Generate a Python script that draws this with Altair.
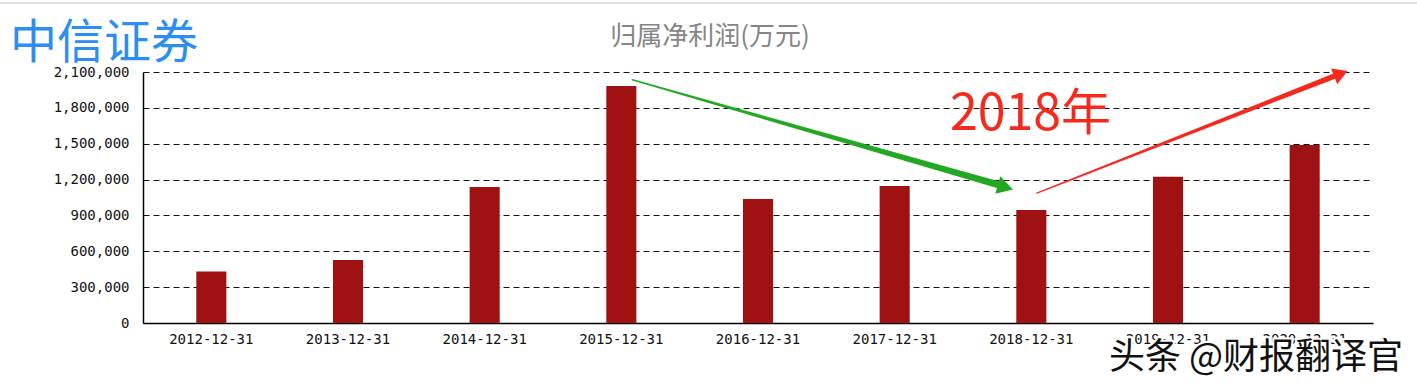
import altair as alt
import pandas as pd

# ---- data ----
dates = ["2012-12-31", "2013-12-31", "2014-12-31", "2015-12-31", "2016-12-31",
         "2017-12-31", "2018-12-31", "2019-12-31", "2020-12-31"]
profit = [430000, 527000, 1138000, 1983000, 1038000, 1146000, 945000, 1224000, 1490000]
y_ticks = [0, 300000, 600000, 900000, 1200000, 1500000, 1800000, 2100000]

# annotation arrows (x in category-index units, y in 万元)
green_x = [3.58, 6.28]
green_y = [2035000, 1150000]
green_w = [1.5, 7.0]
green_head_x = [6.31]
green_head_y = [1136000]
red_x = [6.54, 8.75]
red_y = [1087000, 2080000]
red_w = [1.2, 5.5]
red_head_x = [8.765]
red_head_y = [2085700]

W, H = 1230, 251

bars_df = pd.DataFrame({"date": dates, "profit": profit})

yenc = alt.Y("profit:Q", title=None,
             scale=alt.Scale(domain=[0, 2100000], nice=False, zero=True),
             axis=alt.Axis(values=y_ticks, labelExpr="format(datum.value, ',')",
                           ticks=False, labelPadding=14,
                           labelFont="DejaVu Sans Mono", labelFontSize=14, labelColor="#111",
                           domainColor="#000", domainWidth=1.5,
                           grid=True, gridColor="#111", gridDash=[6, 4], gridWidth=1.2))

bars = alt.Chart(bars_df).mark_bar(color="#a01212").encode(
    x=alt.X("date:N", title=None, sort=dates,
            scale=alt.Scale(paddingInner=0.78, paddingOuter=0.39),
            axis=alt.Axis(labelAngle=0, ticks=False, labelPadding=9,
                          labelFont="DejaVu Sans Mono", labelFontSize=14, labelColor="#111",
                          domainColor="#000", domainWidth=1.5)),
    y=yenc,
)

xq = alt.Scale(domain=[0, 9], nice=False, zero=False)

def trail(xs, ys, ws, color):
    df = pd.DataFrame({"xi": xs, "profit": ys, "w": ws})
    return alt.Chart(df).mark_trail(color=color).encode(
        x=alt.X("xi:Q", scale=xq, axis=None),
        y=yenc,
        size=alt.Size("w:Q", scale=None, legend=None),
    )

def head(xs, ys, angle, color, size):
    df = pd.DataFrame({"xi": xs, "profit": ys})
    return alt.Chart(df).mark_point(shape="triangle-up", filled=True, opacity=1,
                                    color=color, size=size, angle=angle).encode(
        x=alt.X("xi:Q", scale=xq, axis=None),
        y=yenc,
    )

green = trail(green_x, green_y, green_w, "#23a823") + head(green_head_x, green_head_y, 106, "#23a823", 330)
red = trail(red_x, red_y, red_w, "#f52a1f") + head(red_head_x, red_head_y, 68.5, "#f52a1f", 280)

def label(text, x, y, size, color, font="Noto Sans CJK SC", align="left", **kw):
    return alt.Chart(pd.DataFrame({"t": [text]})).mark_text(
        align=align, baseline="alphabetic", font=font, fontSize=size, color=color, **kw
    ).encode(text="t:N", x=alt.value(x), y=alt.value(y))

company = label("中信证券", -133, -14, 47, "#2b8ef0")
title = label("归属净利润(万元)", 567, -27, 26, "#858585", align="center")
year = label("2018年", 807, 58, 50, "#f52a1f")
wm_bg = label("头条 @财报翻译官", 966, 297, 36, "#ffffff", stroke="#ffffff", strokeWidth=4)
wm = label("头条 @财报翻译官", 966, 297, 36, "#111111")

top_line = alt.Chart(pd.DataFrame({"a": [0]})).mark_rule(color="#e2e2e2", strokeWidth=2).encode(
    x=alt.value(-143), x2=alt.value(W + 44), y=alt.value(-69))

chart = alt.layer(
    bars, green, red, company, title, year, wm_bg, wm, top_line
).resolve_scale(x="independent").properties(
    width=W, height=H,
    autosize=alt.AutoSizeParams(type="none"),
    padding={"left": 143, "top": 72, "right": 44, "bottom": 65},
    background="white",
).configure_view(stroke=None)

chart.save("out.html", embed_options={"renderer": "svg", "actions": False})
